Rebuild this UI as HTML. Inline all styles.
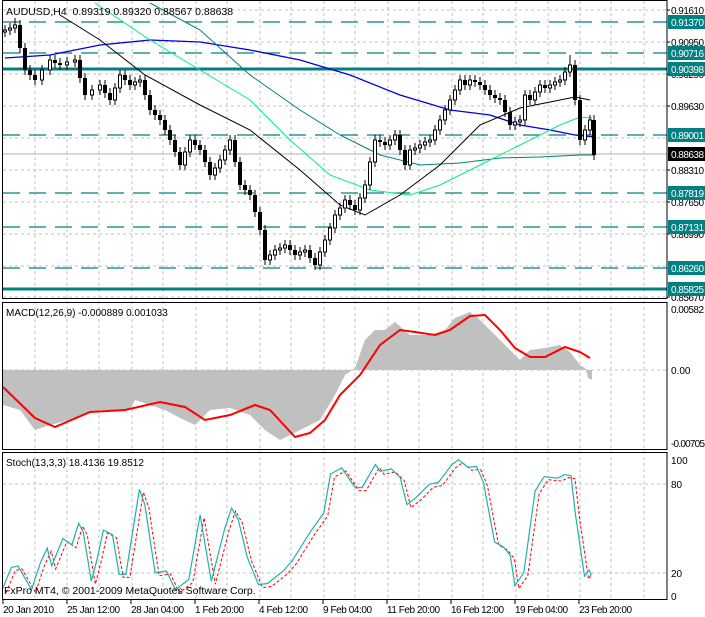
<!DOCTYPE html>
<html><head><meta charset="utf-8"><style>
html,body{margin:0;padding:0;background:#fff;}
svg{display:block;font-family:"Liberation Sans",sans-serif;font-size:10px;}
</style></head><body>
<svg width="705" height="617" xmlns="http://www.w3.org/2000/svg">
<g stroke="#c0c0c0" stroke-dasharray="3,3">
<path d="M3 10H667M3 42H667M3 74H667M3 106H667M3 138H667M3 170H667M3 202H667M3 234H667M3 266H667M3 297H667M3 370H667M3 484H667M3 573H667"/>
<path d="M35 1V599M67 1V599M99 1V599M132 1V599M163 1V599M196 1V599M227 1V599M260 1V599M291 1V599M324 1V599M355 1V599M388 1V599M419 1V599M452 1V599M483 1V599M516 1V599M548 1V599M580 1V599M611 1V599M644 1V599"/>
</g>
<g stroke="#008080" stroke-width="1.3" stroke-dasharray="17,9">
<path d="M3 22H667M3 53H667M3 135H667M3 193H667M3 227H667M3 268H667"/>
</g>
<path d="M3 69H667M3 289H667" stroke="#008080" stroke-width="3"/>
<path d="M3 154H667" stroke="#b0b0b0"/>
<g fill="none">
<polyline stroke="#0000e0" stroke-width="1.3" points="5,58 50,55 100,45 150,40 200,42 250,50 300,60 350,75 400,95 450,110 490,115 520,125 550,130 575,135 595,137"/>
<polyline stroke="#008080" points="150,3 200,30 250,75 300,110 340,135 380,155 420,165 460,163 500,158 540,157 580,155 595,155"/>
<polyline stroke="#00ee80" points="95,3 150,40 200,70 250,100 290,140 330,175 370,190 410,195 440,185 480,165 520,145 560,125 580,117 592,118"/>
<polyline stroke="#000" points="60,15 100,40 145,75 200,105 250,130 300,170 340,205 365,215 400,195 440,165 480,125 520,108 560,100 575,97 590,100"/>
</g>
<path stroke="#000" d="M5 25V37M10 23V35M15 18V33M20 20V53M25 43V75M30 65V80M35 70V85M42 65V85M50 55V75M55 55V68M60 58V70M67 57V70M75 55V67M80 55V83M85 73V100M92 85V100M100 80V95M105 80V98M110 88V105M115 83V105M120 70V93M125 70V85M130 75V90M135 77V90M140 75V87M145 75V100M150 90V115M155 105V120M160 110V125M165 115V135M170 125V145M175 135V157M180 147V170M185 147V170M190 135V157M195 135V150M200 140V155M205 145V167M210 157V180M215 163V180M220 155V173M225 145V165M230 135V155M235 135V167M240 157V190M245 180V195M250 185V200M255 190V217M260 207V235M265 225V265M270 250V265M275 245V260M280 243V255M285 240V253M290 240V255M295 245V260M300 247V260M305 245V257M310 245V263M315 253V270M320 247V270M325 235V257M330 223V245M335 210V233M340 203V220M345 195V213M350 195V210M355 200V215M360 193V215M365 180V203M370 157V190M375 135V167M380 135V147M385 137V150M390 135V150M395 130V145M400 130V155M405 145V170M410 145V170M415 143V155M420 140V153M425 137V150M430 135V147M435 125V145M440 115V135M445 105V125M450 95V115M455 85V105M460 75V95M465 75V90M470 75V90M475 75V87M480 77V90M485 80V95M490 85V100M495 90V103M500 93V105M505 95V117M510 107V130M515 117V130M520 115V127M525 90V125M530 90V105M535 87V105M540 80V97M545 80V93M550 80V93M555 77V90M560 75V87M565 67V85M570 55V77M575 60V105M580 95V145M585 125V145M590 115V135M594 115V160"/>
<path stroke="#000" stroke-width="4" d="M20 25V48M25 48V70M30 70V75M35 75V80M55 60V63M60 63V65M80 60V78M85 78V95M105 85V93M110 93V100M125 75V80M130 80V85M145 80V95M150 95V110M155 110V115M160 115V120M165 120V130M170 130V140M175 140V152M180 152V165M195 140V145M200 145V150M205 150V162M210 162V175M235 140V162M240 162V185M245 185V190M250 190V195M255 195V212M260 212V230M265 230V260M290 245V250M295 250V255M310 250V258M315 258V265M350 200V205M355 205V210M380 140V142M385 142V145M400 135V150M405 150V165M465 80V85M475 80V82M480 82V85M485 85V90M490 90V95M495 95V98M500 98V100M505 100V112M510 112V125M530 95V100M545 85V88M575 65V100M580 100V140M594 120V155"/>
<path stroke="#000" fill="#fff" d="M3.5 30h3v2h-3zM8.5 28h3v2h-3zM13.5 25h3v3h-3zM40.5 70h3v10h-3zM48.5 60h3v10h-3zM65.5 62h3v3h-3zM73.5 60h3v2h-3zM90.5 90h3v5h-3zM98.5 85h3v5h-3zM113.5 88h3v12h-3zM118.5 75h3v13h-3zM133.5 82h3v3h-3zM138.5 80h3v2h-3zM183.5 152h3v13h-3zM188.5 140h3v12h-3zM213.5 168h3v7h-3zM218.5 160h3v8h-3zM223.5 150h3v10h-3zM228.5 140h3v10h-3zM268.5 255h3v5h-3zM273.5 250h3v5h-3zM278.5 248h3v2h-3zM283.5 245h3v3h-3zM298.5 252h3v3h-3zM303.5 250h3v2h-3zM318.5 252h3v13h-3zM323.5 240h3v12h-3zM328.5 228h3v12h-3zM333.5 215h3v13h-3zM338.5 208h3v7h-3zM343.5 200h3v8h-3zM358.5 198h3v12h-3zM363.5 185h3v13h-3zM368.5 162h3v23h-3zM373.5 140h3v22h-3zM388.5 140h3v5h-3zM393.5 135h3v5h-3zM408.5 150h3v15h-3zM413.5 148h3v2h-3zM418.5 145h3v3h-3zM423.5 142h3v3h-3zM428.5 140h3v2h-3zM433.5 130h3v10h-3zM438.5 120h3v10h-3zM443.5 110h3v10h-3zM448.5 100h3v10h-3zM453.5 90h3v10h-3zM458.5 80h3v10h-3zM468.5 80h3v5h-3zM513.5 122h3v3h-3zM518.5 120h3v2h-3zM523.5 95h3v25h-3zM533.5 92h3v8h-3zM538.5 85h3v7h-3zM548.5 85h3v3h-3zM553.5 82h3v3h-3zM558.5 80h3v2h-3zM563.5 72h3v8h-3zM568.5 65h3v7h-3zM583.5 130h3v10h-3zM588.5 120h3v10h-3z"/>
<polygon fill="#c0c0c0" points="3,370 3,405 20,410 35,430 50,425 70,420 100,410 130,410 135,400 150,405 165,410 180,418 195,425 210,410 230,408 250,415 265,430 280,440 300,430 320,420 335,395 345,375 355,368 365,340 375,330 385,330 395,322 410,335 430,335 445,330 455,318 470,312 480,320 490,330 500,340 510,350 520,360 530,350 545,348 560,345 570,352 580,365 585,368 586,370 588,378 592,380 592,370"/>
<polyline fill="none" stroke="#ff0000" stroke-width="2" points="3,387 35,418 55,427 90,412 125,410 160,402 185,407 205,420 230,415 255,405 270,410 295,437 310,433 325,420 340,395 360,375 380,345 400,330 415,332 435,335 450,330 470,316 485,315 500,330 515,348 530,357 545,357 565,347 580,352 590,358"/>
<polyline fill="none" stroke="#ff0000" stroke-dasharray="3,2" transform="translate(4,3)" points="2.2,589.7 11.2,567.6 18,565.9 31.5,589.7 40.5,562.4 47.2,548.2 51.7,565.9 62.9,538.6 71.9,544.8 78.7,523.3 83.2,531.8 91.3,581.2 96.7,560.7 103.4,530.1 112.4,534.6 119.2,574.4 125.9,574.4 139.4,489.3 144.8,504.6 155.1,572.7 166.4,571 175.4,589.7 188.8,579.5 200.1,514.8 211.3,581.2 224.8,528.4 231.6,508 238.3,519.9 247.3,557.3 258.5,584.6 267.5,583.5 283.3,571 292.3,560.7 310.3,531.8 323.7,513.1 330.5,474 341.7,467.9 355.2,487.6 362,487.6 375.4,464.5 380,471.3 391.2,468.9 400.2,477.4 406.9,504.6 415.9,497.8 429.4,484.2 438.4,482.5 451.9,464.5 458.6,459.7 467.6,467.2 476.6,466.5 483.4,482.5 494.6,542 503.6,547.1 510.3,555.6 514.9,585.6 523.8,572.7 535.1,491 544.1,476.7 557.6,478.1 564.3,474.7 571,475.7 575.5,514.8 584.5,576.1 587,572"/>
<polyline fill="none" stroke="#20b2aa" stroke-width="1.2" points="2.2,589.7 11.2,567.6 18,565.9 31.5,589.7 40.5,562.4 47.2,548.2 51.7,565.9 62.9,538.6 71.9,544.8 78.7,523.3 83.2,531.8 91.3,581.2 96.7,560.7 103.4,530.1 112.4,534.6 119.2,574.4 125.9,574.4 139.4,489.3 144.8,504.6 155.1,572.7 166.4,571 175.4,589.7 188.8,579.5 200.1,514.8 211.3,581.2 224.8,528.4 231.6,508 238.3,519.9 247.3,557.3 258.5,584.6 267.5,583.5 283.3,571 292.3,560.7 310.3,531.8 323.7,513.1 330.5,474 341.7,467.9 355.2,487.6 362,487.6 375.4,464.5 380,471.3 391.2,468.9 400.2,477.4 406.9,504.6 415.9,497.8 429.4,484.2 438.4,482.5 451.9,464.5 458.6,459.7 467.6,467.2 476.6,466.5 483.4,482.5 494.6,542 503.6,547.1 510.3,555.6 514.9,585.6 523.8,572.7 535.1,491 544.1,476.7 557.6,478.1 564.3,474.7 571,475.7 575.5,514.8 584.5,576.1 589,569.9 591.3,575.4"/>
<g fill="none" stroke="#000">
<rect x="2.5" y="0.5" width="664.5" height="298"/>
<rect x="2.5" y="302.5" width="664.5" height="147"/>
<rect x="2.5" y="452.5" width="664.5" height="147"/>
<path d="M667 10h3M667 42h3M667 74h3M667 106h3M667 170h3M667 202h3M667 234h3M667 297h3M3 600v4M67 600v4M131 600v4M195 600v4M259 600v4M323 600v4M387 600v4M451 600v4M515 600v4M579 600v4"/>
</g>
<g fill="#000" font-size="10">
<text x="671" y="14" textLength="33">0.91610</text><text x="671" y="46" textLength="33">0.90950</text><text x="671" y="78" textLength="33">0.90290</text><text x="671" y="110" textLength="33">0.89630</text><text x="671" y="174" textLength="33">0.88310</text><text x="671" y="206" textLength="33">0.87650</text><text x="671" y="238" textLength="33">0.86990</text><text x="671" y="301" textLength="33">0.85670</text>
</g>
<g fill="#008080">
<rect x="668" y="15" width="37" height="14"/><rect x="668" y="46" width="37" height="14"/><rect x="668" y="62" width="37" height="14"/><rect x="668" y="128" width="37" height="14"/><rect x="668" y="186" width="37" height="14"/><rect x="668" y="220" width="37" height="14"/><rect x="668" y="261" width="37" height="14"/><rect x="668" y="282" width="37" height="14"/>
</g>
<rect x="668" y="147" width="37" height="14" fill="#000"/>
<g fill="#fff" font-size="10">
<text x="671" y="26" textLength="33">0.91370</text><text x="671" y="57" textLength="33">0.90716</text><text x="671" y="73" textLength="33">0.90398</text><text x="671" y="139" textLength="33">0.89001</text><text x="671" y="197" textLength="33">0.87819</text><text x="671" y="231" textLength="33">0.87131</text><text x="671" y="272" textLength="33">0.86260</text><text x="671" y="293" textLength="33">0.85825</text><text x="671" y="158" textLength="33">0.88638</text>
</g>
<g fill="#000" font-size="10">
<text x="671" y="313" textLength="33">0.00582</text><text x="671" y="374">0.00</text><text x="671" y="447" textLength="34">-0.00705</text>
<text x="671" y="464">100</text><text x="671" y="488">80</text><text x="671" y="577">20</text><text x="671" y="600">0</text>
<text x="6" y="15" font-size="10.5">AUDUSD,H4&#160; 0.89319 0.89320 0.88567 0.88638</text>
<text x="6" y="316">MACD(12,26,9) -0.000889 0.001033</text>
<text x="6" y="466">Stoch(13,3,3) 18.4136 19.8512</text>
<text x="4" y="594" font-size="10.5">FxPro MT4, © 2001-2009 MetaQuotes Software Corp.</text>
<g font-size="10">
<text x="3" y="613" textLength="51">20 Jan 2010</text><text x="67" y="613" textLength="53">25 Jan 12:00</text><text x="131" y="613" textLength="53">28 Jan 04:00</text><text x="195" y="613" textLength="49">1 Feb 20:00</text><text x="259" y="613" textLength="49">4 Feb 12:00</text><text x="323" y="613" textLength="49">9 Feb 04:00</text><text x="387" y="613" textLength="53">11 Feb 20:00</text><text x="451" y="613" textLength="53">16 Feb 12:00</text><text x="515" y="613" textLength="53">19 Feb 04:00</text><text x="579" y="613" textLength="53">23 Feb 20:00</text>
</g>
</g>
</svg>
</body></html>
